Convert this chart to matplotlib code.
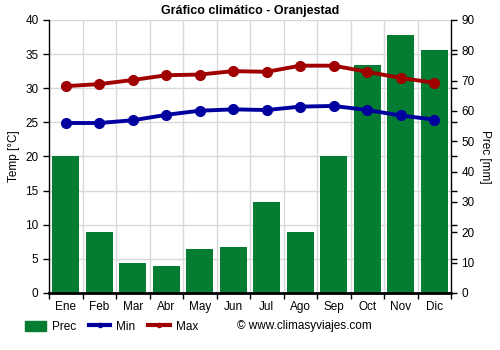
import numpy as np
import matplotlib
matplotlib.use('Agg')
import matplotlib.pyplot as plt
from matplotlib.lines import Line2D
from matplotlib.patches import Patch

plt.rcParams["font.family"] = "Liberation Sans"
plt.rcParams["font.size"] = 8.5

months = ['Ene', 'Feb', 'Mar', 'Abr', 'May', 'Jun', 'Jul', 'Ago', 'Sep', 'Oct', 'Nov', 'Dic']
prec = [45, 20, 10, 9, 14.5, 15, 30, 20, 45, 75, 85, 80]
t_min = [24.9, 24.9, 25.3, 26.1, 26.7, 26.9, 26.8, 27.3, 27.4, 26.8, 26.0, 25.4]
t_max = [30.3, 30.6, 31.2, 31.9, 32.0, 32.5, 32.4, 33.3, 33.3, 32.4, 31.5, 30.8]

green = '#047c31'
blue = '#00009f'
red = '#a00000'

fig = plt.figure(figsize=(5, 3.5), dpi=100)
ax = fig.add_axes([0.098, 0.163, 0.804, 0.78])
ax2 = ax.twinx()

x = np.arange(len(months))

# bars on the right axis, drawn below the temperature lines
ax2.bar(x, prec, width=0.8, color=green, zorder=2)
ax2.set_ylim(0, 90)
ax2.set_yticks(np.arange(0, 91, 10))
ax2.set_yticks(np.arange(0, 91, 11.25), minor=True)
ax2.set_ylabel('Prec [mm]', rotation=270, labelpad=12)

ax.set_zorder(ax2.get_zorder() + 1)
ax.patch.set_visible(False)
ax.plot(x, t_min, color=blue, lw=2.8, marker='o', ms=7, zorder=4)
ax.plot(x, t_max, color=red, lw=2.8, marker='o', ms=7, zorder=4)
ax.set_ylim(0, 40)
ax.set_yticks(np.arange(0, 41, 5))
ax.set_xlim(-0.5, 11.5)
ax.set_xticks(x)
ax.set_xticklabels(months)
ax.set_xticks(np.arange(-0.5, 12, 1), minor=True)
ax.set_ylabel('Temp [°C]')

# grid lines live on the back axes so they sit under the bars
for v in np.arange(0.5, 11.5, 1):
    ax2.axvline(v, color='#d9d9d9', lw=1, zorder=0)
for v in np.arange(5, 40, 5):
    ax2.axhline(v * 90 / 40, color='#d9d9d9', lw=1, zorder=0)
ax2.axhline(90, color='#d9d9d9', lw=1, zorder=0)

for a in (ax, ax2):
    a.spines['top'].set_visible(False)
    a.tick_params(length=4, width=1, colors='black', labelsize=8.5)
    a.tick_params(which='minor', length=4, width=1)
ax.tick_params(axis='x', which='major', length=0, pad=6)
ax.tick_params(axis='x', which='minor', length=4)
ax2.spines['left'].set_visible(False)
ax.spines['right'].set_visible(False)
ax.spines['bottom'].set_linewidth(2)
ax.spines['left'].set_linewidth(1)
ax2.spines['right'].set_linewidth(1)
ax2.spines['bottom'].set_visible(False)

ax.set_title('Gráfico climático - Oranjestad', fontweight='bold', fontsize=9, pad=4)

handles = [Patch(color=green, label='Prec'),
           Line2D([0], [0], color=blue, lw=3, marker='o', ms=3, label='Min'),
           Line2D([0], [0], color=red, lw=3, marker='o', ms=3, label='Max')]
fig.legend(handles=handles, loc='center left', bbox_to_anchor=(0.038, 0.066), ncol=3,
           frameon=False, fontsize=8.5, handlelength=1.8, handleheight=0.9,
           columnspacing=1.1, handletextpad=0.5, borderpad=0)
fig.text(0.474, 0.068, '© www.climasyviajes.com', fontsize=8.5, va='center')

plt.savefig('out.png', dpi=100)
